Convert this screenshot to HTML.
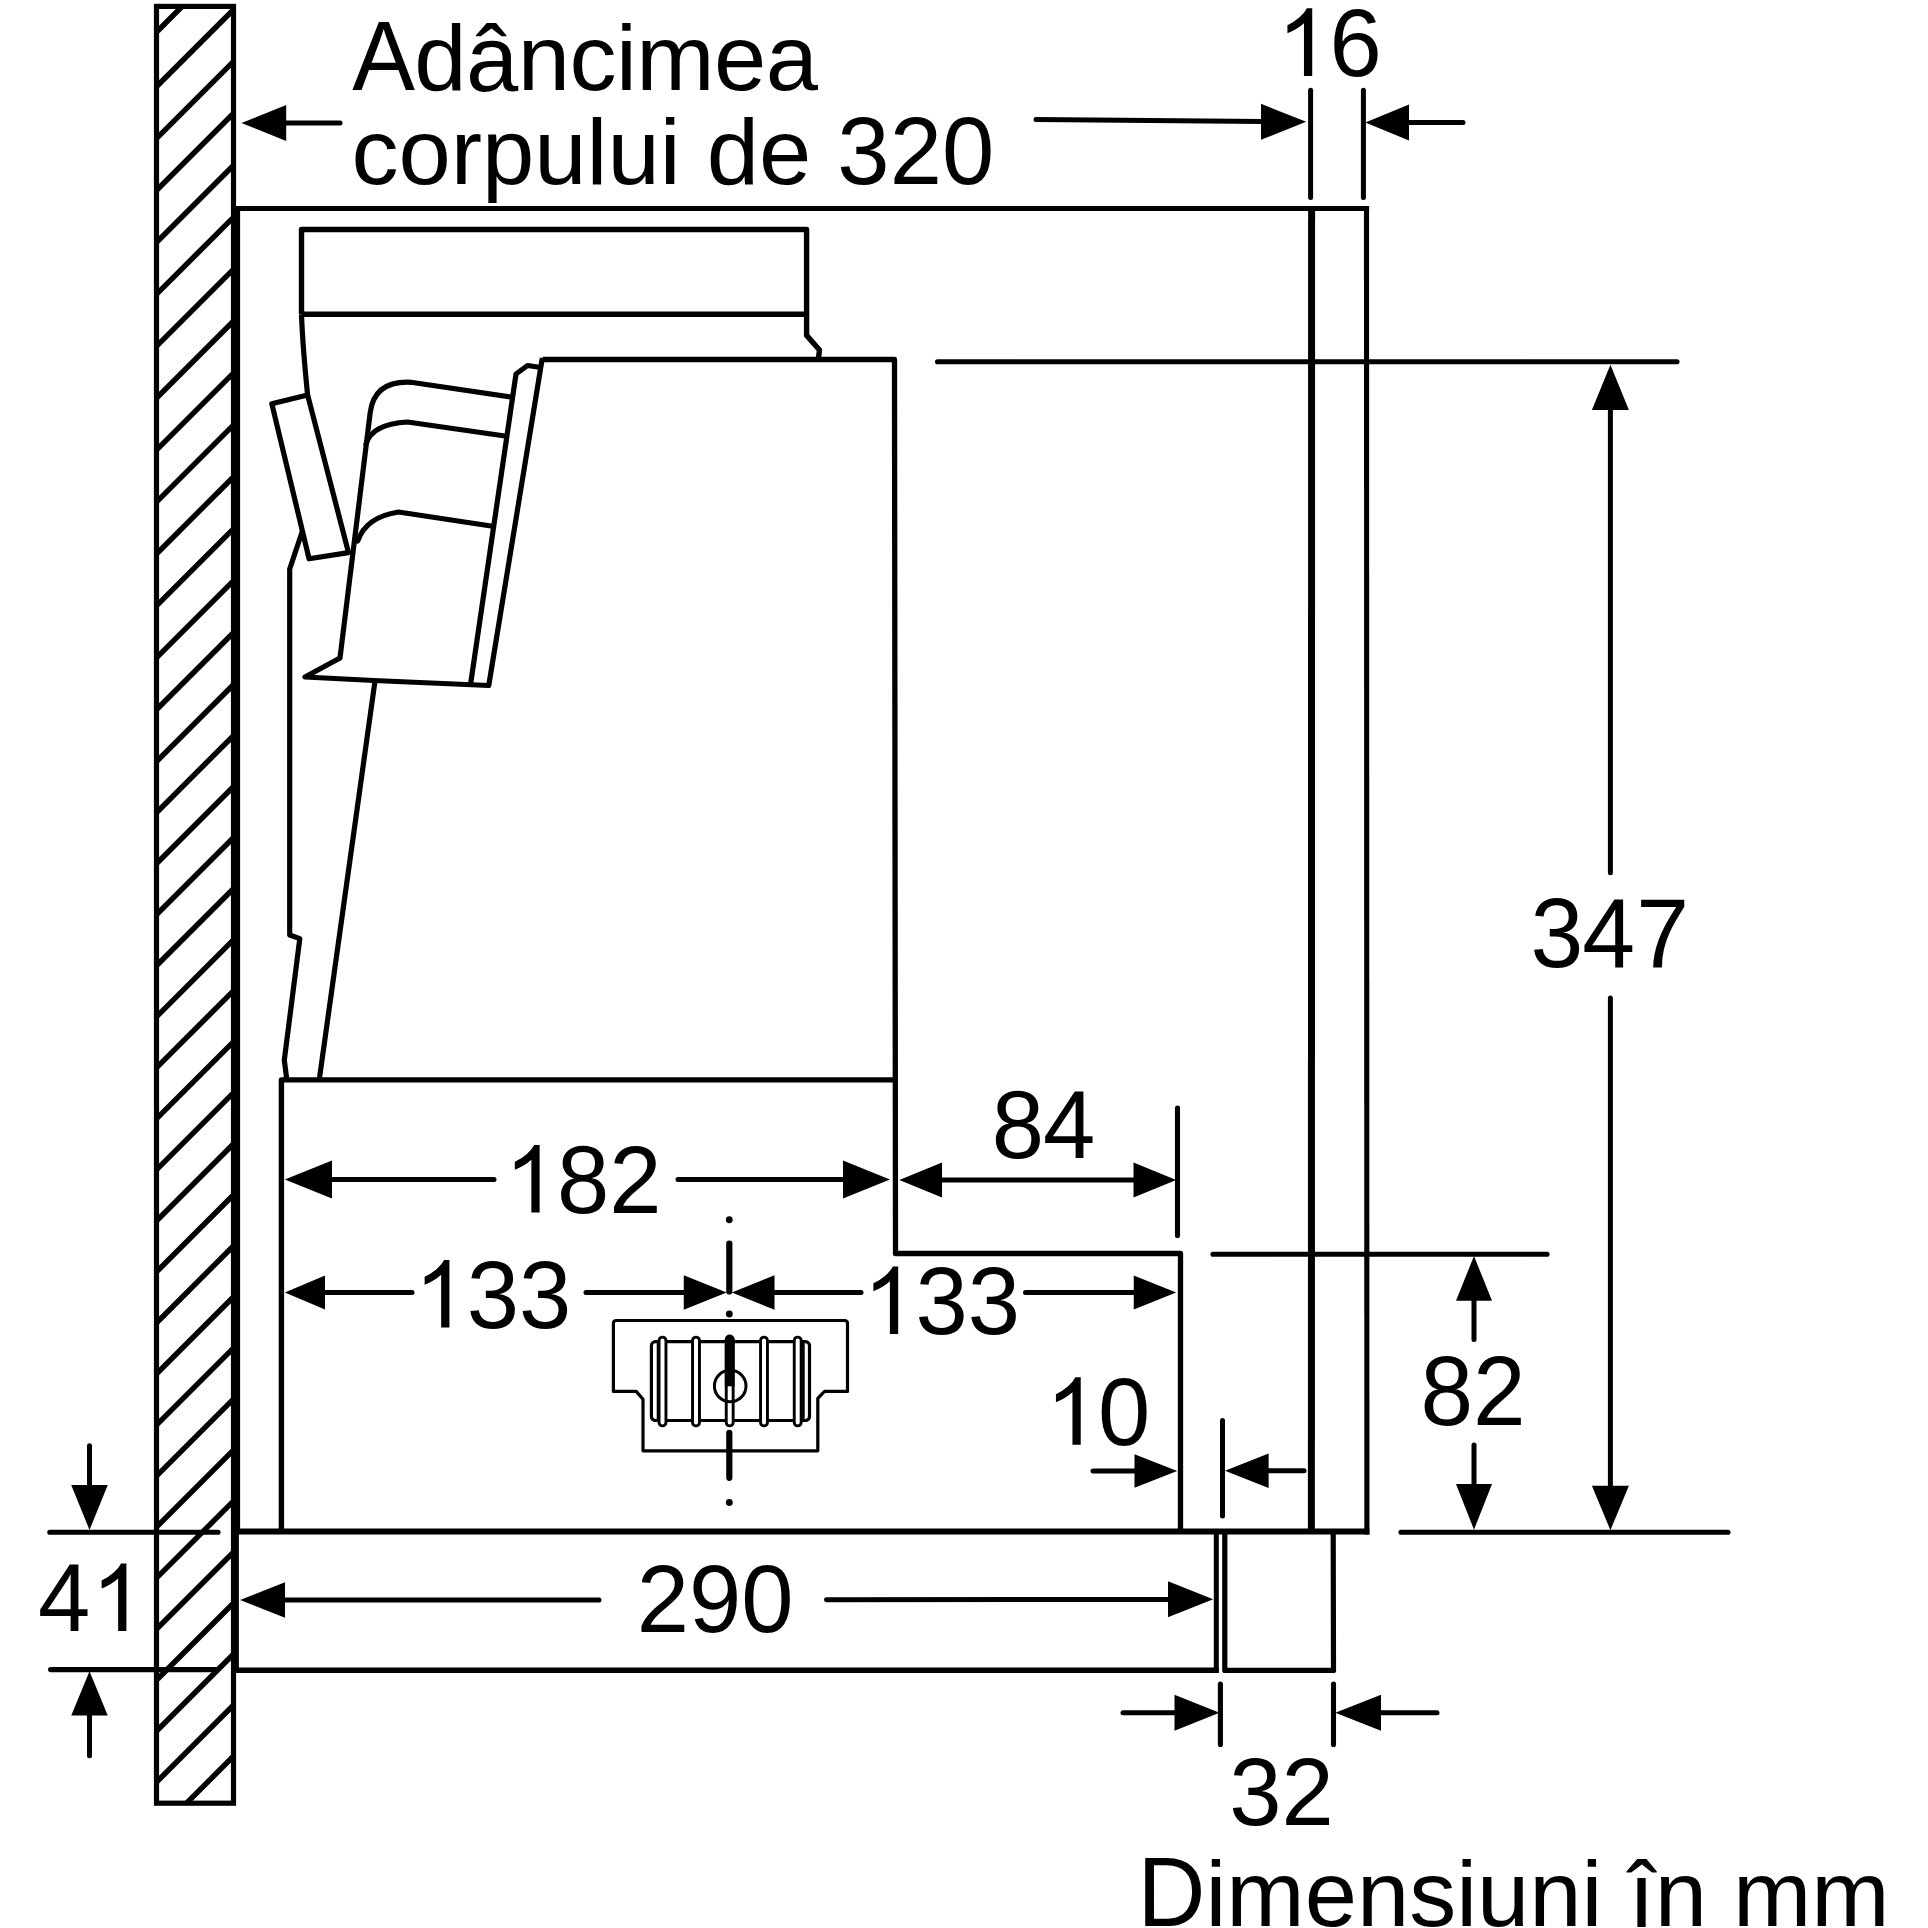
<!DOCTYPE html>
<html lang="ro"><head><meta charset="utf-8"><title>Dimensiuni</title>
<style>
html,body{margin:0;padding:0;background:#fff;overflow:hidden}
svg{display:block}
text{font-family:"Liberation Sans",sans-serif;fill:#000}
</style></head><body>
<svg width="1928" height="1928" viewBox="0 0 1928 1928">
<rect x="0" y="0" width="1928" height="1928" fill="#fff"/>
<clipPath id="wc"><rect x="156.5" y="6.4" width="77.0" height="1796.8"/></clipPath>
<g clip-path="url(#wc)">
<line x1="146.5" y1="42.1" x2="243.5" y2="-54.9" stroke="#000" stroke-width="5.4" stroke-linecap="butt" />
<line x1="146.5" y1="96.6" x2="243.5" y2="-0.4" stroke="#000" stroke-width="5.4" stroke-linecap="butt" />
<line x1="146.5" y1="148.52" x2="243.5" y2="51.52" stroke="#000" stroke-width="5.4" stroke-linecap="butt" />
<line x1="146.5" y1="200.44" x2="243.5" y2="103.44" stroke="#000" stroke-width="5.4" stroke-linecap="butt" />
<line x1="146.5" y1="252.36" x2="243.5" y2="155.36" stroke="#000" stroke-width="5.4" stroke-linecap="butt" />
<line x1="146.5" y1="304.28" x2="243.5" y2="207.28" stroke="#000" stroke-width="5.4" stroke-linecap="butt" />
<line x1="146.5" y1="356.2" x2="243.5" y2="259.2" stroke="#000" stroke-width="5.4" stroke-linecap="butt" />
<line x1="146.5" y1="408.12" x2="243.5" y2="311.12" stroke="#000" stroke-width="5.4" stroke-linecap="butt" />
<line x1="146.5" y1="460.04" x2="243.5" y2="363.04" stroke="#000" stroke-width="5.4" stroke-linecap="butt" />
<line x1="146.5" y1="511.96" x2="243.5" y2="414.96" stroke="#000" stroke-width="5.4" stroke-linecap="butt" />
<line x1="146.5" y1="563.88" x2="243.5" y2="466.88" stroke="#000" stroke-width="5.4" stroke-linecap="butt" />
<line x1="146.5" y1="615.8" x2="243.5" y2="518.8" stroke="#000" stroke-width="5.4" stroke-linecap="butt" />
<line x1="146.5" y1="667.72" x2="243.5" y2="570.72" stroke="#000" stroke-width="5.4" stroke-linecap="butt" />
<line x1="146.5" y1="719.64" x2="243.5" y2="622.64" stroke="#000" stroke-width="5.4" stroke-linecap="butt" />
<line x1="146.5" y1="771.56" x2="243.5" y2="674.56" stroke="#000" stroke-width="5.4" stroke-linecap="butt" />
<line x1="146.5" y1="822.59" x2="243.5" y2="725.59" stroke="#000" stroke-width="5.4" stroke-linecap="butt" />
<line x1="146.5" y1="873.62" x2="243.5" y2="776.62" stroke="#000" stroke-width="5.4" stroke-linecap="butt" />
<line x1="146.5" y1="924.65" x2="243.5" y2="827.65" stroke="#000" stroke-width="5.4" stroke-linecap="butt" />
<line x1="146.5" y1="975.68" x2="243.5" y2="878.68" stroke="#000" stroke-width="5.4" stroke-linecap="butt" />
<line x1="146.5" y1="1026.71" x2="243.5" y2="929.71" stroke="#000" stroke-width="5.4" stroke-linecap="butt" />
<line x1="146.5" y1="1077.74" x2="243.5" y2="980.74" stroke="#000" stroke-width="5.4" stroke-linecap="butt" />
<line x1="146.5" y1="1128.77" x2="243.5" y2="1031.77" stroke="#000" stroke-width="5.4" stroke-linecap="butt" />
<line x1="146.5" y1="1179.8" x2="243.5" y2="1082.8" stroke="#000" stroke-width="5.4" stroke-linecap="butt" />
<line x1="146.5" y1="1230.83" x2="243.5" y2="1133.83" stroke="#000" stroke-width="5.4" stroke-linecap="butt" />
<line x1="146.5" y1="1281.86" x2="243.5" y2="1184.86" stroke="#000" stroke-width="5.4" stroke-linecap="butt" />
<line x1="146.5" y1="1332.89" x2="243.5" y2="1235.89" stroke="#000" stroke-width="5.4" stroke-linecap="butt" />
<line x1="146.5" y1="1383.92" x2="243.5" y2="1286.92" stroke="#000" stroke-width="5.4" stroke-linecap="butt" />
<line x1="146.5" y1="1434.95" x2="243.5" y2="1337.95" stroke="#000" stroke-width="5.4" stroke-linecap="butt" />
<line x1="146.5" y1="1485.98" x2="243.5" y2="1388.98" stroke="#000" stroke-width="5.4" stroke-linecap="butt" />
<line x1="146.5" y1="1537.01" x2="243.5" y2="1440.01" stroke="#000" stroke-width="5.4" stroke-linecap="butt" />
<line x1="146.5" y1="1588.04" x2="243.5" y2="1491.04" stroke="#000" stroke-width="5.4" stroke-linecap="butt" />
<line x1="146.5" y1="1639.07" x2="243.5" y2="1542.07" stroke="#000" stroke-width="5.4" stroke-linecap="butt" />
<line x1="146.5" y1="1690.1" x2="243.5" y2="1593.1" stroke="#000" stroke-width="5.4" stroke-linecap="butt" />
<line x1="146.5" y1="1741.13" x2="243.5" y2="1644.13" stroke="#000" stroke-width="5.4" stroke-linecap="butt" />
<line x1="146.5" y1="1792.16" x2="243.5" y2="1695.16" stroke="#000" stroke-width="5.4" stroke-linecap="butt" />
<line x1="146.5" y1="1843.19" x2="243.5" y2="1746.19" stroke="#000" stroke-width="5.4" stroke-linecap="butt" />
</g>
<rect x="156.5" y="6.4" width="77.0" height="1796.8" fill="none" stroke="#000" stroke-width="5.2"/>
<line x1="233.8" y1="208.5" x2="1369.1" y2="208.5" stroke="#000" stroke-width="5.2" stroke-linecap="butt" />
<line x1="237.4" y1="205.9" x2="237.4" y2="1531.5" stroke="#000" stroke-width="5.4" stroke-linecap="butt" />
<line x1="236.3" y1="1531.5" x2="236.3" y2="1672.9" stroke="#000" stroke-width="5.2" stroke-linecap="butt" />
<path d="M1311.6,208 L1311.4,1531" fill="none" stroke="#000" stroke-width="7" stroke-linejoin="miter" stroke-linecap="butt" />
<path d="M1366.5,205.9 L1366.9,1534.4" fill="none" stroke="#000" stroke-width="5.1" stroke-linejoin="miter" stroke-linecap="butt" />
<line x1="233.8" y1="1531.5" x2="1369.4" y2="1531.5" stroke="#000" stroke-width="5.9" stroke-linecap="butt" />
<line x1="233.8" y1="1670.2" x2="1218.8" y2="1670.2" stroke="#000" stroke-width="5.4" stroke-linecap="butt" />
<line x1="1216.3" y1="1531" x2="1216.3" y2="1672.9" stroke="#000" stroke-width="5" stroke-linecap="butt" />
<path d="M1224.8,1531 L1224.8,1670.4 L1333.5,1670.4 L1333.2,1531" fill="none" stroke="#000" stroke-width="5.2" stroke-linejoin="round" stroke-linecap="butt" />
<path d="M281.4,1531 L281.4,1079.9 L894.5,1079.9" fill="none" stroke="#000" stroke-width="5.4" stroke-linejoin="round" stroke-linecap="butt" />
<path d="M542.5,359.5 L894.5,359.5 L895.5,1253.5 L1180.5,1253.5 L1180.5,1531" fill="none" stroke="#000" stroke-width="5.3" stroke-linejoin="round" stroke-linecap="butt" />
<path d="M301.5,314.3 L301.5,229.5 L806.6,229.5 L806.6,335.4 L819.5,350 L818.3,359.5" fill="none" stroke="#000" stroke-width="5.4" stroke-linejoin="round" stroke-linecap="butt" />
<line x1="301.5" y1="314.3" x2="806.6" y2="314.3" stroke="#000" stroke-width="5.4" stroke-linecap="butt" />
<path d="M301.5,314.3 C302.6,345 305.3,372 307.6,394.9" fill="none" stroke="#000" stroke-width="5.2" stroke-linejoin="miter" stroke-linecap="butt" />
<path d="M307.6,394.9 L271.8,403.7 L309.1,558.8 L348.5,552.6 Z" fill="none" stroke="#000" stroke-width="5.2" stroke-linejoin="round" stroke-linecap="butt" />
<path d="M302.4,531 L289.7,569 L289.7,935 L299.8,938.6 L284.3,1060.2 L286.6,1078" fill="none" stroke="#000" stroke-width="5.2" stroke-linejoin="round" stroke-linecap="butt" />
<line x1="375" y1="681" x2="319.5" y2="1078" stroke="#000" stroke-width="5.2" stroke-linecap="butt" />
<path d="M340,658 L305,677 L373.75,680.5 L488.75,685.5 L542.3,358" fill="none" stroke="#000" stroke-width="5.2" stroke-linejoin="round" stroke-linecap="butt" />
<path d="M470.6,684 L516,374 L527.5,365.5 L541,367.5" fill="none" stroke="#000" stroke-width="5.2" stroke-linejoin="round" stroke-linecap="butt" />
<path d="M340,658 L370.2,412.5 Q374.5,380.5 411,382.3 L511,397" fill="none" stroke="#000" stroke-width="5.2" stroke-linejoin="round" stroke-linecap="round" />
<path d="M366,444 Q372,424 407.5,422 L505,436" fill="none" stroke="#000" stroke-width="5.2" stroke-linejoin="round" stroke-linecap="round" />
<path d="M357.7,541 Q366,517 398.5,512 L491,526" fill="none" stroke="#000" stroke-width="5.2" stroke-linejoin="round" stroke-linecap="round" />
<path d="M616.4,1320.5 L844.5,1320.5 Q847.5,1320.5 847.5,1323.5 L847.5,1391.4 L824.5,1391.4 L817.8,1398.4 L817.8,1450.8 L643,1450.8 L643,1399.3 L636.2,1391.4 L613.4,1391.4 L613.4,1323.5 Q613.4,1320.5 616.4,1320.5 Z" fill="none" stroke="#000" stroke-width="3.2" stroke-linejoin="round" stroke-linecap="butt" />
<rect x="651.4" y="1341.6" width="158.1" height="78.9" rx="4" ry="4" fill="none" stroke="#000" stroke-width="3.2"/>
<line x1="658" y1="1341.6" x2="658" y2="1420.5" stroke="#000" stroke-width="2.6" stroke-linecap="butt" />
<line x1="803.4" y1="1341.6" x2="803.4" y2="1420.5" stroke="#000" stroke-width="2.6" stroke-linecap="butt" />
<rect x="659.05" y="1337.1" width="6.9" height="88.8" rx="3.45" ry="3.45" fill="#fff" stroke="#000" stroke-width="2.9"/>
<rect x="692.55" y="1337.1" width="6.9" height="88.8" rx="3.45" ry="3.45" fill="#fff" stroke="#000" stroke-width="2.9"/>
<rect x="726.25" y="1337.1" width="6.9" height="88.8" rx="3.45" ry="3.45" fill="#fff" stroke="#000" stroke-width="2.9"/>
<rect x="760.55" y="1337.1" width="6.9" height="88.8" rx="3.45" ry="3.45" fill="#fff" stroke="#000" stroke-width="2.9"/>
<rect x="794.25" y="1337.1" width="6.9" height="88.8" rx="3.45" ry="3.45" fill="#fff" stroke="#000" stroke-width="2.9"/>
<circle cx="730.2" cy="1386" r="15.8" fill="none" stroke="#000" stroke-width="3"/>
<line x1="729.7" y1="1339.4" x2="729.7" y2="1386.3" stroke="#000" stroke-width="9.8" stroke-linecap="butt" />
<circle cx="729.7" cy="1339.4" r="4.9" fill="#000"/>
<circle cx="729.3" cy="1219.75" r="3.4" fill="#000"/>
<circle cx="729.3" cy="1314" r="3.4" fill="#000"/>
<circle cx="729.3" cy="1502.5" r="3.4" fill="#000"/>
<line x1="729.3" y1="1243.6" x2="729.3" y2="1291.5" stroke="#000" stroke-width="6.2" stroke-linecap="round" />
<line x1="729.3" y1="1432.8" x2="729.3" y2="1477.8" stroke="#000" stroke-width="6.2" stroke-linecap="round" />
<text transform="translate(352.20,89.7) scale(1,1.04)" font-size="94" letter-spacing="-0.55" xml:space="preserve">A</text>
<text transform="translate(414.35,89.7) scale(1,0.985)" font-size="94" letter-spacing="-0.55" xml:space="preserve">dâncimea</text>
<text transform="translate(351.40,184.1) scale(1,0.985)" font-size="94" xml:space="preserve">corpului de </text>
<text transform="translate(837.37,184.1) scale(1,1.035)" font-size="94" xml:space="preserve">320</text>
<polygon points="241.4,123 286.2,105 286.2,141" fill="#000"/>
<line x1="285" y1="123" x2="340" y2="123" stroke="#000" stroke-width="5.0" stroke-linecap="round" />
<line x1="1036" y1="119.5" x2="1263" y2="121.5" stroke="#000" stroke-width="5.0" stroke-linecap="round" />
<polygon points="1306.2,121.8 1261,103.8 1261,139.8" fill="#000"/>
<line x1="1310.6" y1="90.3" x2="1310.6" y2="197.5" stroke="#000" stroke-width="5.0" stroke-linecap="round" />
<line x1="1363.4" y1="90.3" x2="1363.4" y2="197.5" stroke="#000" stroke-width="5.0" stroke-linecap="round" />
<polygon points="1365.3,122.5 1409,104.5 1409,140.5" fill="#000"/>
<line x1="1407" y1="122.5" x2="1463" y2="122.5" stroke="#000" stroke-width="5.0" stroke-linecap="round" />
<path d="M763,0H583V1147Q518,1085 412.5,1023Q307,961 223,930V1104Q374,1175 487,1276Q600,1377 647,1472H763Z" transform="translate(1277.20,75.9) scale(0.04590,-0.04590)" fill="#000"/>
<text transform="translate(1329.48,75.9) scale(1,1.035)" font-size="94">6</text>
<line x1="937.5" y1="361.7" x2="1677" y2="361.7" stroke="#000" stroke-width="5.1" stroke-linecap="round" />
<line x1="1401" y1="1532.3" x2="1728" y2="1532.3" stroke="#000" stroke-width="5.1" stroke-linecap="round" />
<polygon points="1610.4,364.8 1591.9,410 1628.9,410" fill="#000"/>
<line x1="1610.4" y1="408" x2="1610.4" y2="872.7" stroke="#000" stroke-width="5.0" stroke-linecap="round" />
<line x1="1610.4" y1="997.9" x2="1610.4" y2="1488" stroke="#000" stroke-width="5.0" stroke-linecap="round" />
<polygon points="1610.4,1530.2 1591.9,1485.8 1628.9,1485.8" fill="#000"/>
<text transform="translate(1530.60,967.2) scale(1,1.035)" font-size="95">3</text>
<text transform="translate(1582.22,967.2) scale(1,1.035)" font-size="95">4</text>
<text transform="translate(1636.27,967.2) scale(1,1.035)" font-size="95">7</text>
<line x1="1213" y1="1254.3" x2="1547" y2="1254.3" stroke="#000" stroke-width="5.1" stroke-linecap="round" />
<polygon points="1474,1256.0 1456,1300.75 1492,1300.75" fill="#000"/>
<line x1="1474" y1="1298" x2="1474" y2="1339.5" stroke="#000" stroke-width="5.0" stroke-linecap="round" />
<line x1="1474" y1="1445" x2="1474" y2="1486" stroke="#000" stroke-width="5.0" stroke-linecap="round" />
<polygon points="1474,1529.7 1456,1484 1492,1484" fill="#000"/>
<text transform="translate(1420.40,1424.8) scale(1,1.035)" font-size="94.6">8</text>
<text transform="translate(1473.01,1424.8) scale(1,1.035)" font-size="94.6">2</text>
<line x1="1177.5" y1="1108.1" x2="1177.5" y2="1235.5" stroke="#000" stroke-width="5.1" stroke-linecap="round" />
<polygon points="899.3,1180 942,1162.5 942,1197.5" fill="#000"/>
<line x1="940" y1="1180" x2="1136" y2="1180" stroke="#000" stroke-width="5.0" stroke-linecap="butt" />
<polygon points="1176.2,1180 1133.5,1162.5 1133.5,1197.5" fill="#000"/>
<text transform="translate(991.80,1157.9) scale(1,1.035)" font-size="94">8</text>
<text transform="translate(1042.88,1157.9) scale(1,1.035)" font-size="94">4</text>
<polygon points="284.8,1179.5 332,1160.5 332,1198.5" fill="#000"/>
<line x1="330" y1="1179.5" x2="494" y2="1179.5" stroke="#000" stroke-width="5.0" stroke-linecap="round" />
<line x1="678" y1="1179.5" x2="845" y2="1179.5" stroke="#000" stroke-width="5.0" stroke-linecap="round" />
<polygon points="889.95,1179.5 843,1160.5 843,1198.5" fill="#000"/>
<path d="M763,0H583V1147Q518,1085 412.5,1023Q307,961 223,930V1104Q374,1175 487,1276Q600,1377 647,1472H763Z" transform="translate(504.60,1212.5) scale(0.04590,-0.04590)" fill="#000"/>
<text transform="translate(556.88,1212.5) scale(1,1.035)" font-size="94">8</text>
<text transform="translate(609.16,1212.5) scale(1,1.035)" font-size="94">2</text>
<polygon points="284.8,1292.5 325,1275.5 325,1309.5" fill="#000"/>
<line x1="323" y1="1292.5" x2="412" y2="1292.5" stroke="#000" stroke-width="5.0" stroke-linecap="round" />
<path d="M763,0H583V1147Q518,1085 412.5,1023Q307,961 223,930V1104Q374,1175 487,1276Q600,1377 647,1472H763Z" transform="translate(414.40,1327.5) scale(0.04590,-0.04590)" fill="#000"/>
<text transform="translate(466.68,1327.5) scale(1,1.035)" font-size="94">3</text>
<text transform="translate(518.96,1327.5) scale(1,1.035)" font-size="94">3</text>
<line x1="586" y1="1292.5" x2="686" y2="1292.5" stroke="#000" stroke-width="5.0" stroke-linecap="round" />
<polygon points="726.7,1292.5 683.75,1275.25 683.75,1309.75" fill="#000"/>
<polygon points="731.8,1292.5 774.5,1275.25 774.5,1309.75" fill="#000"/>
<line x1="772" y1="1292.5" x2="861" y2="1292.5" stroke="#000" stroke-width="5.0" stroke-linecap="round" />
<path d="M763,0H583V1147Q518,1085 412.5,1023Q307,961 223,930V1104Q374,1175 487,1276Q600,1377 647,1472H763Z" transform="translate(863.15,1334) scale(0.04590,-0.04590)" fill="#000"/>
<text transform="translate(915.43,1334) scale(1,1.035)" font-size="94">3</text>
<text transform="translate(967.71,1334) scale(1,1.035)" font-size="94">3</text>
<line x1="1025.5" y1="1292.5" x2="1136" y2="1292.5" stroke="#000" stroke-width="5.0" stroke-linecap="round" />
<polygon points="1176.2,1292.5 1133.75,1275.5 1133.75,1309.5" fill="#000"/>
<path d="M763,0H583V1147Q518,1085 412.5,1023Q307,961 223,930V1104Q374,1175 487,1276Q600,1377 647,1472H763Z" transform="translate(1045.70,1444.85) scale(0.04590,-0.04590)" fill="#000"/>
<text transform="translate(1097.98,1444.85) scale(1,1.035)" font-size="94">0</text>
<line x1="1093" y1="1471" x2="1136" y2="1471" stroke="#000" stroke-width="5.0" stroke-linecap="round" />
<polygon points="1177.2,1471 1134.5,1454.25 1134.5,1487.75" fill="#000"/>
<line x1="1222.5" y1="1420.6" x2="1222.5" y2="1516" stroke="#000" stroke-width="5" stroke-linecap="round" />
<polygon points="1225.0,1470.7 1268.6,1453.4 1268.6,1488.0" fill="#000"/>
<line x1="1266" y1="1470.7" x2="1304" y2="1470.7" stroke="#000" stroke-width="5.0" stroke-linecap="round" />
<polygon points="240.05,1600 285,1582.25 285,1617.75" fill="#000"/>
<line x1="283" y1="1600" x2="599" y2="1600" stroke="#000" stroke-width="5.0" stroke-linecap="round" />
<line x1="826.5" y1="1599.8" x2="1170" y2="1599.4" stroke="#000" stroke-width="5.0" stroke-linecap="round" />
<polygon points="1213.2,1599.3 1168,1581.3 1168,1617.3" fill="#000"/>
<text transform="translate(636.80,1632) scale(1,1.035)" font-size="94">2</text>
<text transform="translate(689.08,1632) scale(1,1.035)" font-size="94">9</text>
<text transform="translate(741.36,1632) scale(1,1.035)" font-size="94">0</text>
<line x1="49.8" y1="1532.2" x2="218" y2="1532.2" stroke="#000" stroke-width="5.1" stroke-linecap="round" />
<line x1="50.6" y1="1669.6" x2="216" y2="1669.6" stroke="#000" stroke-width="5.1" stroke-linecap="round" />
<line x1="89.5" y1="1445.8" x2="89.5" y2="1487" stroke="#000" stroke-width="5.0" stroke-linecap="round" />
<polygon points="89.5,1529.95 71.25,1485 107.75,1485" fill="#000"/>
<polygon points="89.5,1671.3 71.25,1715.5 107.75,1715.5" fill="#000"/>
<line x1="89.5" y1="1713" x2="89.5" y2="1755.8" stroke="#000" stroke-width="5.0" stroke-linecap="round" />
<text transform="translate(37.90,1631.1) scale(1,1.035)" font-size="94">4</text>
<path d="M763,0H583V1147Q518,1085 412.5,1023Q307,961 223,930V1104Q374,1175 487,1276Q600,1377 647,1472H763Z" transform="translate(91.38,1631.1) scale(0.04590,-0.04590)" fill="#000"/>
<line x1="1220.4" y1="1684" x2="1220.4" y2="1744.4" stroke="#000" stroke-width="5.1" stroke-linecap="round" />
<line x1="1333.5" y1="1684" x2="1333.5" y2="1744.4" stroke="#000" stroke-width="5.1" stroke-linecap="round" />
<line x1="1123" y1="1712.7" x2="1176.5" y2="1712.7" stroke="#000" stroke-width="5.0" stroke-linecap="round" />
<polygon points="1219.5,1712.7 1174.5,1694.7 1174.5,1730.7" fill="#000"/>
<polygon points="1335.3,1712.7 1381,1694.7 1381,1730.7" fill="#000"/>
<line x1="1379" y1="1712.7" x2="1437" y2="1712.7" stroke="#000" stroke-width="5.0" stroke-linecap="round" />
<text transform="translate(1229.20,1824.7) scale(1,1.035)" font-size="94">3</text>
<text transform="translate(1281.48,1824.7) scale(1,1.035)" font-size="94">2</text>
<text transform="translate(1137.60,1925.6) scale(1,1.04)" font-size="94" xml:space="preserve">D</text>
<text transform="translate(1205.48,1925.6) scale(1,0.985)" font-size="94" xml:space="preserve">imensiuni în mm</text>
</svg>
</body></html>
